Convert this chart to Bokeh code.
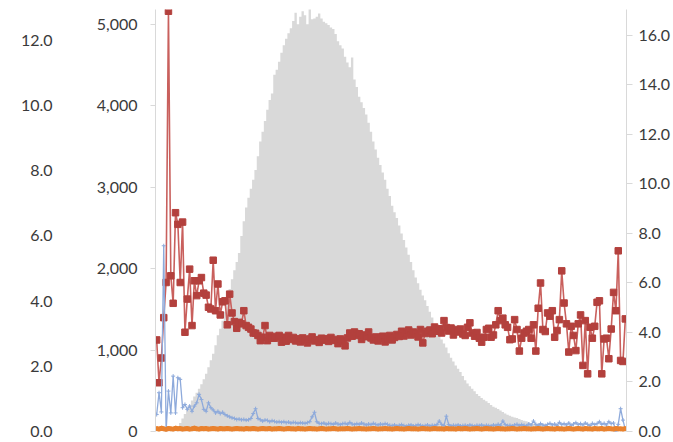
from bokeh.plotting import figure
from bokeh.models import Range1d, LinearAxis, FixedTicker, NumeralTickFormatter
from bokeh.embed import file_html
from bokeh.resources import INLINE

# Bin positions along the horizontal axis
bins = list(range(200))

# Histogram counts (middle left axis, 0 - 5,000)
counts = [
    0, 0, 0, 0, 0, 0, 5, 20, 40, 65,
    105, 160, 215, 270, 325, 380, 430, 475, 525, 580,
    640, 710, 790, 875, 955, 1060, 1180, 1260, 1360, 1470,
    1620, 1750, 1870, 1980, 2080, 2190, 2400, 2580, 2750, 2870,
    2980, 3090, 3210, 3380, 3560, 3680, 3810, 3950, 4070, 4150,
    4380, 4440, 4540, 4650, 4740, 4820, 4890, 4950, 5040, 5140,
    5000, 5090, 5160, 5110, 5000, 5190, 5060, 5070, 5090, 5130,
    5070, 5030, 5010, 4990, 4960, 4940, 4880, 4790, 4740, 4700,
    4600, 4530, 4470, 4590, 4320, 4230, 4110, 4040, 3970, 3890,
    3790, 3680, 3560, 3460, 3360, 3270, 3180, 3090, 2980, 2890,
    2770, 2690, 2620, 2530, 2430, 2350, 2260, 2170, 2080, 1980,
    1890, 1820, 1740, 1670, 1610, 1540, 1470, 1400, 1320, 1250,
    1190, 1130, 1080, 1030, 960, 905, 860, 810, 770, 730,
    680, 630, 590, 555, 525, 495, 460, 435, 410, 390,
    370, 350, 325, 305, 290, 275, 258, 240, 222, 207,
    192, 180, 172, 165, 153, 140, 132, 125, 115, 104,
    96, 88, 82, 76, 70, 66, 60, 55, 51, 48,
    46, 43, 40, 37, 34, 31, 29, 27, 25, 23,
    21, 19, 17, 16, 14, 13, 12, 11, 10, 9,
    8, 7, 7, 6, 5, 5, 4, 3, 3, 2,
]

# Red series (right axis, 0.0 - 16.0)
red_values = [
    3.70, 1.97, 2.97, 4.60, 6.02, 16.98,
    6.29, 5.18, 8.84, 8.37, 6.02, 8.46, 4.01, 5.35, 6.56, 4.28,
    6.09, 5.49, 6.09, 6.22, 5.59, 5.51, 5.02, 4.95, 6.92, 4.88,
    5.96, 4.71, 5.24, 5.28, 4.31, 5.55, 4.79, 4.44, 4.17, 4.41,
    4.35, 4.88, 4.28, 4.21, 4.14, 3.98, 3.97, 3.88, 3.67, 3.81,
    4.28, 3.67, 3.88, 3.77, 3.77, 3.84, 3.88, 3.61, 3.81, 3.65, 3.88,
    3.72, 3.80, 3.66, 3.75, 3.62, 3.78, 3.70, 3.58, 3.74, 3.82,
    3.66, 3.71, 3.60, 3.77, 3.69, 3.75, 3.64, 3.80, 3.68, 3.72,
    3.55, 3.74, 3.66, 3.46, 3.78,
    3.98, 3.85, 4.02, 3.88, 3.95, 3.72, 3.90, 3.83, 4.02, 3.78,
    3.70, 3.82, 3.66, 3.76, 3.85, 3.62, 3.74, 3.88, 3.70, 3.80,
    3.92, 3.84, 4.05, 3.86, 3.98, 4.10, 3.90, 4.02, 3.95, 3.82,
    4.12, 3.58, 3.96, 4.05,
    4.10, 3.95, 4.22, 4.05, 4.15, 3.98, 4.48, 4.20, 4.06, 4.18,
    3.90, 4.12, 4.02,
    4.14, 3.94, 3.88, 4.21, 4.39, 3.98, 3.85, 4.00, 3.77, 3.61,
    3.81, 4.12, 4.17, 3.81, 3.90, 4.31, 4.88, 4.48, 4.58, 4.31,
    4.21, 3.71, 3.74, 4.52, 4.12, 3.25, 3.77, 3.98, 4.05, 4.12,
    3.77, 4.31, 3.25, 4.98, 6.00, 4.12, 4.04, 4.79, 4.66, 4.88,
    3.81, 4.08, 4.52, 6.49, 5.19, 4.35, 3.21, 4.25, 3.88, 3.27,
    4.35, 4.71, 2.67, 4.48, 2.33, 4.21, 3.77, 4.25, 5.22, 5.28,
    2.33, 3.74, 3.77, 2.94, 4.14, 5.62, 4.88, 7.30, 2.87, 2.83,
    4.55,
]

# Blue series (outer left axis, 0.0 - 12.0)
blue_values = [
    0.52, 1.19, 0.60, 5.70, 0.02, 1.24, 0.57, 1.70, 0.57, 1.65,
    1.60, 0.73, 0.83, 0.68, 0.78, 0.62, 0.78, 0.88, 1.14, 0.98,
    0.68, 0.62, 0.88, 0.73, 0.66, 0.57, 0.62, 0.55, 0.59, 0.52,
    0.48, 0.45, 0.42, 0.40, 0.37, 0.38, 0.36, 0.37, 0.35, 0.36,
    0.40, 0.55, 0.70, 0.40, 0.36, 0.32, 0.35, 0.34, 0.30, 0.33,
    0.31, 0.29, 0.30, 0.28, 0.30, 0.27, 0.29, 0.26, 0.28, 0.27,
    0.25, 0.27, 0.26, 0.25, 0.27, 0.30, 0.45, 0.59, 0.30, 0.25,
    0.24, 0.26, 0.22, 0.25, 0.24, 0.22, 0.26, 0.23, 0.21, 0.24,
    0.25, 0.22, 0.28, 0.23, 0.21, 0.24, 0.22, 0.26, 0.23, 0.20,
    0.23, 0.21, 0.25, 0.22, 0.20, 0.23, 0.21, 0.24, 0.22, 0.19,
    0.18, 0.20, 0.17, 0.19, 0.21, 0.18, 0.16, 0.19, 0.20, 0.17,
    0.18, 0.21, 0.19, 0.17, 0.18, 0.20, 0.17, 0.19, 0.18, 0.21,
    0.32, 0.22, 0.18, 0.47, 0.21, 0.17, 0.19, 0.18, 0.20, 0.17,
    0.18, 0.19, 0.17, 0.20, 0.18, 0.16, 0.19, 0.18, 0.20, 0.17,
    0.19, 0.18, 0.17, 0.20, 0.18, 0.22, 0.19, 0.32, 0.21, 0.18,
    0.19, 0.17, 0.20, 0.22, 0.18, 0.21, 0.19, 0.17, 0.23, 0.20,
    0.32, 0.22, 0.19, 0.24, 0.20, 0.18, 0.22, 0.25, 0.20, 0.23,
    0.19, 0.28, 0.21, 0.24, 0.20, 0.26, 0.19, 0.23, 0.27, 0.21,
    0.24, 0.20, 0.26, 0.22, 0.18, 0.25, 0.21, 0.24, 0.30, 0.22,
    0.25, 0.20, 0.30, 0.24, 0.26, 0.00, 0.22, 0.70, 0.35, 0.06,
]

# Orange series (outer left axis), flat just above zero
orange_values = [
    0.09, 0.07, 0.10, 0.08, 0.06, 0.09, 0.08, 0.07, 0.10, 0.08,
    0.09, 0.07, 0.08, 0.09, 0.07, 0.08, 0.10, 0.08, 0.07, 0.09,
    0.08, 0.09, 0.07, 0.08, 0.09, 0.08, 0.07, 0.09, 0.08, 0.08,
    0.09, 0.08, 0.07, 0.08, 0.09, 0.08, 0.08, 0.07, 0.09, 0.08,
    0.08, 0.09, 0.08, 0.07, 0.08, 0.09, 0.08, 0.08, 0.09, 0.07,
    0.08, 0.08, 0.09, 0.08, 0.07, 0.08, 0.09, 0.08, 0.08, 0.07,
    0.09, 0.08, 0.08, 0.07, 0.08, 0.09, 0.08, 0.08, 0.07, 0.08,
    0.09, 0.08, 0.07, 0.08, 0.08, 0.09, 0.08, 0.07, 0.08, 0.08,
    0.08, 0.09, 0.08, 0.07, 0.08, 0.08, 0.09, 0.08, 0.08, 0.07,
    0.08, 0.08, 0.09, 0.08, 0.07, 0.08, 0.08, 0.09, 0.08, 0.08,
    0.07, 0.08, 0.09, 0.08, 0.08, 0.07, 0.08, 0.09, 0.08, 0.08,
    0.08, 0.07, 0.08, 0.09, 0.08, 0.08, 0.07, 0.08, 0.09, 0.08,
    0.08, 0.08, 0.07, 0.09, 0.08, 0.08, 0.08, 0.07, 0.09, 0.08,
    0.08, 0.09, 0.08, 0.07, 0.08, 0.08, 0.09, 0.08, 0.07, 0.08,
    0.09, 0.08, 0.08, 0.07, 0.08, 0.09, 0.08, 0.08, 0.07, 0.08,
    0.08, 0.09, 0.08, 0.07, 0.08, 0.08, 0.09, 0.08, 0.08, 0.07,
    0.08, 0.08, 0.09, 0.08, 0.07, 0.08, 0.09, 0.08, 0.08, 0.07,
    0.09, 0.08, 0.08, 0.07, 0.08, 0.09, 0.08, 0.07, 0.08, 0.09,
    0.08, 0.07, 0.09, 0.08, 0.08, 0.07, 0.09, 0.08, 0.08, 0.09,
    0.07, 0.08, 0.09, 0.08, 0.07, 0.09, 0.08, 0.08, 0.07, 0.09,
]

count_ticks = [0, 1000, 2000, 3000, 4000, 5000]
left_ticks = [0, 2, 4, 6, 8, 10, 12]
right_ticks = [0, 2, 4, 6, 8, 10, 12, 14, 16]

FONT = "Lato"
LABEL_SIZE = "16px"
LABEL_COLOR = "#3a3a3a"
AXIS_GRAY = "#d9d9d9"
BAR_GRAY = "#d9d9d9"

p = figure(
    width=673, height=442,
    x_range=Range1d(-0.5, len(bins) - 0.5),
    y_range=Range1d(0, 5180),
    output_backend="svg", toolbar_location=None,
    x_axis_location=None,
    min_border_left=155, min_border_right=0,
    min_border_top=9, min_border_bottom=11,
)
p.extra_y_ranges = {"left2": Range1d(0, 12.95), "right": Range1d(0, 17.05)}
p.outline_line_color = None
p.grid.visible = False
p.background_fill_color = "white"
p.border_fill_color = "white"

# Inner left axis: counts
ax = p.yaxis[0]
ax.ticker = FixedTicker(ticks=count_ticks)
ax.formatter = NumeralTickFormatter(format="0,0")
ax.axis_line_color = AXIS_GRAY
ax.major_tick_line_color = AXIS_GRAY
ax.major_tick_out = 5
ax.major_tick_in = 0
ax.minor_tick_line_color = None
ax.minor_tick_out = 0
ax.major_label_standoff = 13

# Outer left axis
ax2 = LinearAxis(y_range_name="left2")
ax2.ticker = FixedTicker(ticks=left_ticks)
ax2.formatter = NumeralTickFormatter(format="0.0")
ax2.axis_line_color = None
ax2.major_tick_line_color = None
ax2.major_tick_out = 0
ax2.major_tick_in = 0
ax2.minor_tick_line_color = None
ax2.minor_tick_out = 0
ax2.major_label_standoff = 41
p.add_layout(ax2, "left")

# Right axis
ax3 = LinearAxis(y_range_name="right")
ax3.ticker = FixedTicker(ticks=right_ticks)
ax3.formatter = NumeralTickFormatter(format="0.0")
ax3.axis_line_color = AXIS_GRAY
ax3.major_tick_line_color = AXIS_GRAY
ax3.major_tick_out = 6
ax3.major_tick_in = 0
ax3.minor_tick_line_color = None
ax3.minor_tick_out = 0
ax3.major_label_standoff = 6
p.add_layout(ax3, "right")

for a in (ax, ax2, ax3):
    a.major_label_text_font = FONT
    a.major_label_text_font_size = LABEL_SIZE
    a.major_label_text_color = LABEL_COLOR

# Histogram drawn as one stepped area, so no seams show between bins
if hasattr(p, "varea_step"):
    p.varea_step(x=bins, y1=[0] * len(bins), y2=counts, step_mode="center",
                 fill_color=BAR_GRAY)
else:
    step_x, step_y = [], []
    for b, c in zip(bins, counts):
        step_x += [b - 0.5, b + 0.5]
        step_y += [c, c]
    p.varea(x=step_x, y1=[0] * len(step_x), y2=step_y, fill_color=BAR_GRAY)

# Red series
p.line(bins, red_values, y_range_name="right", line_color="#c9605d", line_width=1.6)
p.scatter(bins, red_values, y_range_name="right", marker="square", size=6.5,
          fill_color="#b3403d", line_color="#b3403d")

# Blue series
p.line(bins, blue_values, y_range_name="left2", line_color="#8eaadb", line_width=1.3)
p.scatter(bins, blue_values, y_range_name="left2", marker="cross", size=4,
          line_color="#8eaadb", line_width=1)

# Orange series
p.line(bins, orange_values, y_range_name="left2", line_color="#e9822f", line_width=5)
p.scatter(bins, orange_values, y_range_name="left2", marker="circle", size=4,
          fill_color="#e9822f", line_color="#e9822f")

open("out.html", "w").write(file_html(p, INLINE))
